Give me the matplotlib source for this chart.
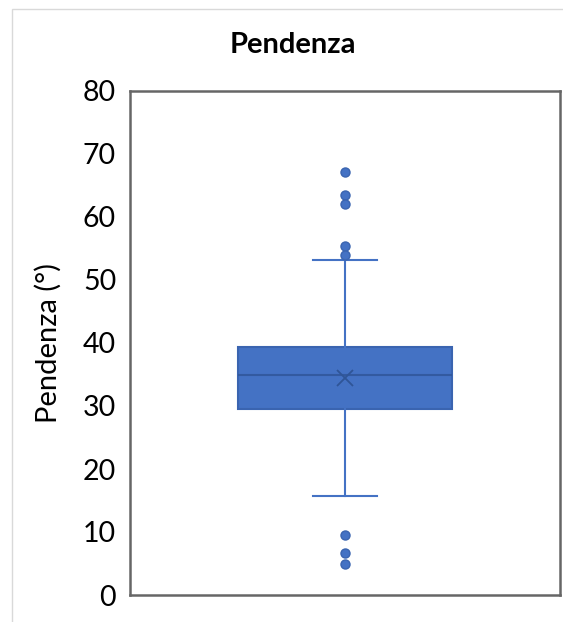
import matplotlib
matplotlib.use("Agg")
import matplotlib.pyplot as plt
from matplotlib.patches import Rectangle

plt.rcParams['font.family'] = ['Lato', 'DejaVu Sans']

# Slope distribution summary (degrees)
category = "Pendenza"
q1, median, q3 = 29.5, 34.9, 39.3
mean_value = 34.4
whisker_low, whisker_high = 15.7, 53.2
outliers = [67.2, 63.5, 62.1, 55.4, 54.0, 9.5, 6.7, 5.0]
y_ticks = [0, 10, 20, 30, 40, 50, 60, 70, 80]

blue = "#4472C4"
dark_blue = "#2F5597"

fig = plt.figure(figsize=(5.63, 6.22), dpi=100)
fig.patch.set_facecolor("white")

# light chart-area border
fig.patches.append(Rectangle((12 / 563, -0.1), 1.2, 1 - 9 / 622 + 0.1,
                             transform=fig.transFigure, fill=False,
                             edgecolor="#d9d9d9", linewidth=1.0))

ax = fig.add_axes([130 / 563, 1 - 595 / 622, (560 - 130) / 563, (595 - 91) / 622])

stats = [{
    "med": median, "q1": q1, "q3": q3,
    "whislo": whisker_low, "whishi": whisker_high,
    "mean": mean_value, "fliers": outliers, "label": category,
}]

ax.bxp(stats, positions=[1], widths=0.498, capwidths=0.148,
       patch_artist=True, showmeans=True,
       boxprops=dict(facecolor=blue, edgecolor="#3A64B0", linewidth=1.5),
       medianprops=dict(color=dark_blue, linewidth=1.5, alpha=0.8),
       whiskerprops=dict(color=blue, linewidth=1.5),
       capprops=dict(color=blue, linewidth=1.5),
       flierprops=dict(marker="o", markerfacecolor=blue, markeredgecolor="#3A64B0",
                       markersize=6.5, linestyle="none"),
       meanprops=dict(marker="x", markeredgecolor=dark_blue, markersize=11,
                      markeredgewidth=1.3))

ax.set_xlim(0.5, 1.5)
ax.set_ylim(0, 80)
ax.set_yticks(y_ticks)
ax.set_xticks([])
ax.tick_params(axis="y", length=0, labelsize=20.5, pad=10, colors="black")

for side in ax.spines.values():
    side.set_color("#666666")
    side.set_linewidth(1.8)

ax.set_ylabel("Pendenza (°)", fontsize=21, labelpad=15)
fig.text(293 / 563, 1 - 45 / 622, "Pendenza", ha="center", va="center",
         fontsize=21, fontweight="bold")

fig.savefig("out.png", dpi=100)
